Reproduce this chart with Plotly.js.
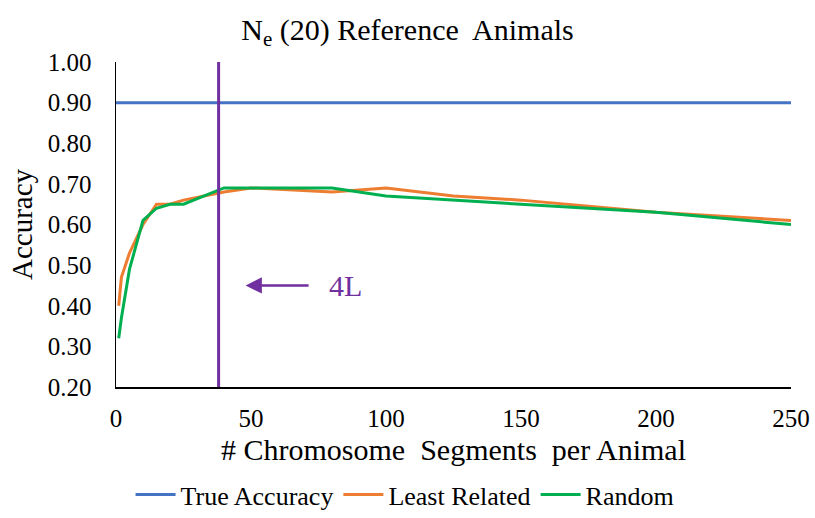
<!DOCTYPE html>
<html>
<head>
<meta charset="utf-8">
<script src="https://cdn.plot.ly/plotly-3.0.1.min.js"></script>
<style>
  html, body { margin: 0; padding: 0; background: #fff; }
  #chart { width: 815px; height: 518px; }
</style>
</head>
<body>
<div id="chart"></div>
<script>
// Number of chromosome segments per animal
const segments = [1, 2, 5, 10, 15, 20, 25, 40, 50, 80, 100, 125, 150, 200, 250];

// Accuracy per strategy
const trueAccuracy = [0.90, 0.90];
const trueAccuracyX = [0, 250];
const leastRelated = [0.40, 0.47, 0.53, 0.60, 0.65, 0.65, 0.66, 0.68, 0.69, 0.68, 0.69, 0.67, 0.66, 0.63, 0.61];
const randomSel   = [0.32, 0.37, 0.49, 0.61, 0.64, 0.65, 0.65, 0.69, 0.69, 0.69, 0.67, 0.66, 0.65, 0.63, 0.60];

// Marker for 4L
const markerX = 38;
const markerLabel = '4L';
const arrowTipX = 48;
const arrowY = 0.45;

const yTicks = [0.20, 0.30, 0.40, 0.50, 0.60, 0.70, 0.80, 0.90, 1.00];
const xTicks = [0, 50, 100, 150, 200, 250];

const serif = 'Liberation Serif';
const purple = '#7030A0';

const traces = [
  { x: trueAccuracyX, y: trueAccuracy, name: 'True Accuracy', mode: 'lines',
    line: { color: '#4472C4', width: 3 } },
  { x: segments, y: leastRelated, name: 'Least Related', mode: 'lines',
    line: { color: '#ED7D31', width: 3 } },
  { x: segments, y: randomSel, name: 'Random', mode: 'lines',
    line: { color: '#00B050', width: 3 } }
];

const layout = {
  width: 815, height: 518,
  paper_bgcolor: '#fff', plot_bgcolor: '#fff',
  margin: { l: 116, r: 24, t: 62, b: 131 },
  font: { family: serif, color: '#000', size: 21 },
  title: {
    text: 'N<sub>e</sub> (20) Reference  Animals',
    font: { family: serif, size: 30, color: '#000' },
    x: 0.5, xref: 'container', xanchor: 'center',
    y: 0.944, yref: 'container', yanchor: 'middle'
  },
  xaxis: {
    range: [0, 250], tickvals: xTicks, ticktext: xTicks.map(String),
    showgrid: false, zeroline: false,
    showline: true, linecolor: '#000', linewidth: 2,
    ticks: '', ticklabelstandoff: 8,
    tickfont: { family: serif, size: 25 },
    title: { text: '# Chromosome  Segments  per Animal', font: { family: serif, size: 30 }, standoff: 8 }
  },
  yaxis: {
    range: [0.20, 1.00], tickvals: yTicks, ticktext: yTicks.map(v => v.toFixed(2)),
    showgrid: false, zeroline: false,
    showline: true, linecolor: '#000', linewidth: 1.5,
    ticks: '', ticklabelstandoff: 18,
    tickfont: { family: serif, size: 25 },
    title: { text: 'Accuracy', font: { family: serif, size: 29 }, standoff: 6 }
  },
  showlegend: true,
  legend: {
    orientation: 'h', xref: 'container', yref: 'container',
    x: 0.497, xanchor: 'center', y: 0.0, yanchor: 'bottom',
    font: { family: serif, size: 26 }, itemwidth: 40,
    bgcolor: 'rgba(0,0,0,0)'
  },
  shapes: [
    { type: 'line', xref: 'x', yref: 'paper', x0: markerX, x1: markerX, y0: 0, y1: 1,
      line: { color: purple, width: 3 } }
  ],
  annotations: [
    // label with a leftward arrow pointing at the marker line
    { x: arrowTipX, y: arrowY, xref: 'x', yref: 'y', text: markerLabel, showarrow: true,
      ax: 100, ay: 0, axref: 'pixel', ayref: 'pixel', borderpad: 20,
      arrowhead: 2, arrowsize: 1.3, arrowwidth: 2.5, arrowcolor: purple, standoff: 0,
      font: { family: serif, size: 30, color: purple } }
  ]
};

Plotly.newPlot('chart', traces, layout, { displayModeBar: false, staticPlot: true });
</script>
</body>
</html>
